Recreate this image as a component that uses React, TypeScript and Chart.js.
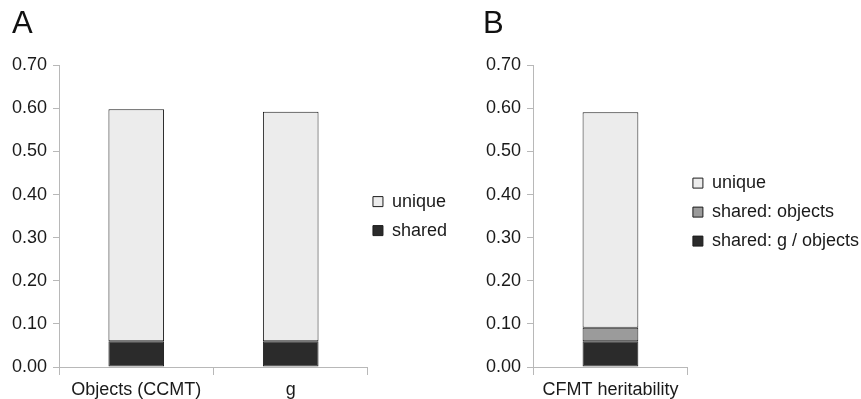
import React, { useEffect, useRef } from 'react';
import { Chart, registerables } from 'chart.js';

Chart.register(...registerables);

// ---- data ----
const yMin = 0;
const yMax = 0.7;
const yStep = 0.1;

const panelATitle = 'A';
const panelACategories = ['Objects (CCMT)', 'g'];
const panelASharedLabel = 'shared';
const panelAUniqueLabel = 'unique';
const panelAShared = [0.06, 0.06];
const panelAUnique = [0.538, 0.532];

const panelBTitle = 'B';
const panelBCategories = ['CFMT heritability'];
const panelBSharedGLabel = 'shared: g / objects';
const panelBSharedObjectsLabel = 'shared: objects';
const panelBUniqueLabel = 'unique';
const panelBSharedG = [0.06];
const panelBSharedObjects = [0.031];
const panelBUnique = [0.5];

// ---- styles ----
const FONT = "'Liberation Sans', Arial, Helvetica, sans-serif";
const TEXT = '#1a1a1a';
const AXIS = '#b8b8b8';
const DARK = '#2b2b2b';
const MID = '#9b9b9b';
const LIGHT = '#ececec';
const EDGE = '#1c1c1c';

type DS = { label: string; data: number[]; color: string };

function makeShiftPlugin(dx: number, dy: number) {
  return {
    id: 'legendShift',
    afterLayout(chart: any) {
      const lg = chart.legend;
      if (lg) {
        lg.left += dx;
        lg.right += dx;
        lg.top += dy;
        lg.bottom += dy;
      }
    },
  };
}

function Panel(props: {
  left: number;
  width: number;
  title: string;
  categories: string[];
  datasets: DS[];
  yAxisWidth: number;
  legendDx: number;
  legendDy: number;
}) {
  const ref = useRef<HTMLCanvasElement | null>(null);
  useEffect(() => {
    if (!ref.current) return;
    const font = { family: FONT, size: 18 };
    const chart = new Chart(ref.current, {
      type: 'bar',
      data: {
        labels: props.categories,
        datasets: props.datasets.map((d) => ({
          label: d.label,
          data: d.data,
          backgroundColor: d.color,
          borderColor: EDGE,
          borderWidth: 1,
          borderSkipped: false,
          barPercentage: 0.36,
          categoryPercentage: 1,
        })),
      },
      options: {
        responsive: false,
        animation: false,
        devicePixelRatio: 1,
        layout: { padding: { left: 12, right: 0, top: 0, bottom: 0 } },
        scales: {
          x: {
            stacked: true,
            offset: true,
            grid: { offset: true, drawOnChartArea: false, drawTicks: true, tickLength: 8, color: AXIS },
            border: { color: AXIS },
            ticks: { font, color: TEXT, padding: 4, maxRotation: 0, autoSkip: false },
            afterFit: (s: any) => {
              s.height = 32;
            },
          },
          y: {
            stacked: true,
            min: yMin,
            max: yMax,
            ticks: {
              stepSize: yStep,
              font,
              color: TEXT,
              padding: 6,
              callback: (v: any) => Number(v).toFixed(2),
            },
            grid: { drawOnChartArea: false, drawTicks: true, tickLength: 6, color: AXIS },
            border: { color: AXIS },
            afterFit: (s: any) => {
              s.width = props.yAxisWidth;
            },
          },
        },
        plugins: {
          title: {
            display: true,
            text: props.title,
            align: 'start',
            color: '#111',
            font: { family: FONT, size: 31, weight: 'normal' },
            padding: { top: 6, bottom: 22 },
          },
          legend: {
            position: 'right',
            align: 'center',
            fullSize: false,
            reverse: true,
            maxWidth: 260,
            labels: { boxWidth: 10, boxHeight: 10, padding: 11, font, color: TEXT },
          },
          tooltip: { enabled: false },
        },
      } as any,
      plugins: [makeShiftPlugin(props.legendDx, props.legendDy)],
    });
    return () => chart.destroy();
  }, []);
  return (
    <canvas
      ref={ref}
      width={props.width}
      height={399}
      style={{ position: 'absolute', left: props.left, top: 0, width: props.width, height: 399 }}
    />
  );
}

export default function App() {
  const dsA: DS[] = [
    { label: panelASharedLabel, data: panelAShared, color: DARK },
    { label: panelAUniqueLabel, data: panelAUnique, color: LIGHT },
  ];
  const dsB: DS[] = [
    { label: panelBSharedGLabel, data: panelBSharedG, color: DARK },
    { label: panelBSharedObjectsLabel, data: panelBSharedObjects, color: MID },
    { label: panelBUniqueLabel, data: panelBUnique, color: LIGHT },
  ];
  return (
    <div
      style={{
        position: 'fixed',
        left: 0,
        top: 0,
        width: 861,
        height: 399,
        overflow: 'hidden',
        background: '#fff',
      }}
    >
      <Panel left={0} width={463} title={panelATitle} categories={panelACategories} datasets={dsA} yAxisWidth={47} legendDx={-6} legendDy={0} />
      <Panel left={471} width={404} title={panelBTitle} categories={panelBCategories} datasets={dsB} yAxisWidth={50} legendDx={-6} legendDy={-4} />
    </div>
  );
}
